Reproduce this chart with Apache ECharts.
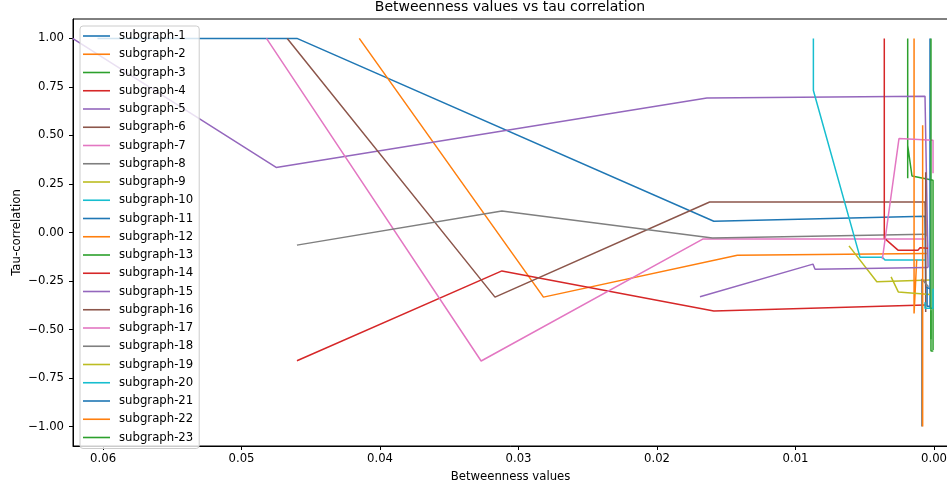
<!DOCTYPE html>
<html>
<head>
<meta charset="utf-8">
<script src="https://cdn.jsdelivr.net/npm/echarts@6/dist/echarts.min.js"></script>
<style>
  html, body { margin: 0; padding: 0; background: #fff; }
  #chart { width: 947px; height: 489px; }
</style>
</head>
<body>
<div id="chart"></div>
<script>
// 每条子图: [betweenness, tau]
const sg1 = [[0.0604, 1.0], [0.0460, 1.0], [0.0159, 0.058], [0.00065, 0.084], [0.00060, -0.28], [0.00030, -0.29]]
const sg2 = [[0.0415, 1.0], [0.0282, -0.333], [0.0142, -0.117], [0.00053, -0.108]]
const sg3 = [[0.0019, 1.0], [0.0019, 0.279], [0.0019, 0.449], [0.00159, 0.291], [0.00007, 0.269], [0.00007, -0.606]]
const sg4 = [[0.0460, -0.661], [0.0312, -0.198], [0.0159, -0.405], [0.00065, -0.374]]
const sg5 = [[0.0622, 1.0], [0.0475, 0.335], [0.0164, 0.693], [0.00065, 0.702], [0.00043, -0.18]]
const sg6 = [[0.0467, 1.0], [0.0317, -0.333], [0.0162, 0.157], [0.00065, 0.157], [0.00060, -0.02]]
const sg7 = [[0.0482, 1.0], [0.0327, -0.662], [0.0167, -0.034], [0.00060, -0.034]]
const sg8 = [[0.0460, -0.065], [0.0312, 0.111], [0.0160, -0.028], [0.00065, -0.009]]
const sg9 = [[0.00614, -0.069], [0.00413, -0.254], [0.00029, -0.245]]
const sg10 = [[0.00871, 1.0], [0.00871, 0.732], [0.00534, -0.128], [0.00373, -0.128], [0.00354, -0.142], [0.00065, -0.142]]
const sg11 = [[0.00029, 1.0], [0.00029, -0.39]]
const sg12 = [[0.00144, 1.0], [0.00144, -0.417], [0.00125, -0.14]]
const sg13 = [[0.00022, -0.40], [0.00022, -0.61], [0.00005, -0.61]]
const sg14 = [[0.00359, 1.0], [0.00359, -0.029], [0.00260, -0.091], [0.00116, -0.091], [0.00101, -0.079], [0.00043, -0.081]]
const sg15 = [[0.0169, -0.331], [0.00874, -0.163], [0.00859, -0.189], [0.00043, -0.180]]
const sg16 = [[0.00060, 0.31], [0.00060, -0.41]]
const sg17 = [[0.00373, -0.137], [0.00253, 0.484], [0.00007, 0.475], [0.00007, 0.305]]
const sg18 = [[0.00040, -0.28], [0.00088, -0.24], [0.00088, -1.0]]
const sg19 = [[0.00310, -0.229], [0.00258, -0.306], [0.00029, -0.319]]
const sg20 = [[0.00065, -0.36], [0.00065, -0.39], [0.00007, -0.39], [0.00007, -0.29]]
const sg21 = [[0.00050, -0.28], [0.00050, -0.38], [0.00030, -0.38]]
const sg22 = [[0.00082, 0.552], [0.00082, -1.0]]
const sg23 = [[0.00022, 1.0], [0.00022, -0.55]]

const seriesData = [sg1, sg2, sg3, sg4, sg5, sg6, sg7, sg8, sg9, sg10, sg11, sg12,
  sg13, sg14, sg15, sg16, sg17, sg18, sg19, sg20, sg21, sg22, sg23]
const names = seriesData.map((d, i) => 'subgraph-' + (i + 1))

const xTicks = [0.0, 0.01, 0.02, 0.03, 0.04, 0.05, 0.06]
const yTicks = [-1.0, -0.75, -0.5, -0.25, 0.0, 0.25, 0.5, 0.75, 1.0]

const colors = ['#1f77b4', '#ff7f0e', '#2ca02c', '#d62728', '#9467bd',
  '#8c564b', '#e377c2', '#7f7f7f', '#bcbd22', '#17becf']

const font = 'DejaVu Sans'
const chart = echarts.init(document.getElementById('chart'))
const option = {
  animation: false,
  color: colors,
  title: {
    text: 'Betweenness values vs tau correlation',
    left: 510,
    top: 0,
    textAlign: 'center',
    padding: 0,
    textStyle: { fontFamily: font, fontSize: 14, fontWeight: 'normal', color: '#000' },
  },
  legend: {
    orient: 'vertical',
    left: 80,
    top: 26,
    padding: [3, 6, 4, 3],
    itemGap: 4.25,
    itemWidth: 27,
    itemHeight: 1.6,
    icon: 'rect',
    backgroundColor: 'rgba(255,255,255,0.8)',
    borderColor: '#ccc',
    borderWidth: 1,
    borderRadius: 3,
    textStyle: { fontFamily: font, fontSize: 11.7, lineHeight: 14, color: '#000', padding: [0, 0, 0, 4] },
    data: names,
  },
  grid: {
    left: 73,
    top: 19,
    width: 875,
    height: 427,
    show: true,
    borderColor: '#000',
    borderWidth: 1,
    containLabel: false,
    outerBoundsMode: 'none',
  },
  xAxis: {
    type: 'value',
    inverse: true,
    min: -0.00101,
    max: 0.06217,
    name: 'Betweenness values',
    nameLocation: 'middle',
    nameGap: 25,
    nameTextStyle: { fontFamily: font, fontSize: 11.7, color: '#000' },
    axisLine: { onZero: false, lineStyle: { color: '#000' } },
    axisTick: { show: true, length: 4, customValues: xTicks, lineStyle: { color: '#000' } },
    axisLabel: {
      customValues: xTicks,
      margin: 7,
      fontFamily: font,
      fontSize: 11.7,
      color: '#000',
      formatter: (v) => v.toFixed(2),
    },
    splitLine: { show: false },
  },
  yAxis: {
    type: 'value',
    min: -1.1,
    max: 1.1,
    name: 'Tau-correlation',
    nameLocation: 'middle',
    nameGap: 50,
    nameMoveOverlap: false,
    nameTextStyle: { fontFamily: font, fontSize: 11.7, color: '#000' },
    axisLine: { onZero: false, lineStyle: { color: '#000' } },
    axisTick: { show: true, length: 4, customValues: yTicks, lineStyle: { color: '#000' } },
    axisLabel: {
      customValues: yTicks,
      margin: 9,
      fontFamily: font,
      fontSize: 11.7,
      color: '#000',
      formatter: (v) => v.toFixed(2).replace('-', '\u2212'),
    },
    splitLine: { show: false },
  },
  series: seriesData.map((d, i) => ({
    name: names[i],
    type: 'line',
    data: d,
    symbol: 'none',
    lineStyle: { width: 1.5, color: colors[i % 10] },
    itemStyle: { color: colors[i % 10] },
  })),
}
chart.setOption(option)
</script>
</body>
</html>
